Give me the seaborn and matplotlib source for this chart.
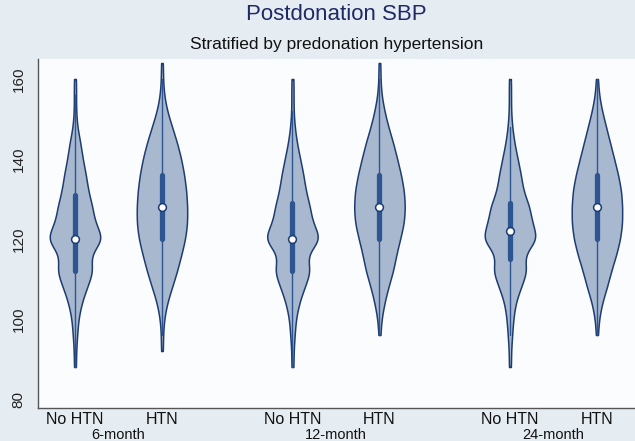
import numpy as np
import pandas as pd
import matplotlib
matplotlib.use("Agg")
import matplotlib.pyplot as plt
import matplotlib.transforms as mtransforms
import seaborn as sns
from matplotlib.ticker import FixedLocator, FixedFormatter

# ---------------- data ----------------
timepoints = ["6-month", "12-month", "24-month"]
groups = ["No HTN", "HTN"]
sbp_values = [88, 92, 96, 100, 104, 108, 112, 116, 120, 124,
              128, 132, 136, 140, 144, 148, 152, 156, 160, 164]

counts_6m_nohtn = [1, 1, 2, 3, 6, 11, 17, 13, 27, 18, 16, 12, 10, 7, 5, 2, 1, 1, 1, 0]
counts_6m_htn = [0, 1, 1, 2, 5, 10, 15, 19, 23, 25, 25, 24, 22, 19, 15, 10, 5, 2, 1, 1]
counts_12m_nohtn = [1, 1, 2, 3, 6, 11, 17, 12, 27, 18, 16, 12, 10, 7, 4, 2, 1, 1, 1, 0]
counts_12m_htn = [0, 0, 1, 2, 5, 9, 14, 17, 21, 25, 26, 25, 22, 18, 14, 9, 5, 2, 1, 1]
counts_24m_nohtn = [1, 1, 2, 3, 5, 10, 16, 12, 26, 20, 18, 12, 10, 7, 4, 2, 1, 1, 1, 0]
counts_24m_htn = [0, 0, 1, 2, 5, 10, 14, 19, 23, 25, 25, 24, 21, 17, 13, 9, 5, 2, 1, 0]

yticks = [80, 100, 120, 140, 160]
title = "Postdonation SBP"
subtitle = "Stratified by predonation hypertension"

# ---------------- build long table ----------------
table = [
    ("6-month", "No HTN", counts_6m_nohtn),
    ("6-month", "HTN", counts_6m_htn),
    ("12-month", "No HTN", counts_12m_nohtn),
    ("12-month", "HTN", counts_12m_htn),
    ("24-month", "No HTN", counts_24m_nohtn),
    ("24-month", "HTN", counts_24m_htn),
]
frames = []
for t, g, c in table:
    vals = np.repeat(sbp_values, c)
    frames.append(pd.DataFrame({"time": t, "group": g, "sbp": vals}))
df = pd.concat(frames, ignore_index=True)

# ---------------- style ----------------
sns.set_style("white")
plt.rcParams["font.family"] = ["Liberation Sans", "DejaVu Sans"]

bg = "#e6edf2"
fill = "#a8b9cf"
edge = "#1f3c72"
boxc = "#2d5592"

W, H = 635, 441
fig = plt.figure(figsize=(W / 100, H / 100), dpi=100, facecolor=bg)
ax_l, ax_r = 38, 635
ax_b, ax_t = 408, 59
ax = fig.add_axes([ax_l / W, 1 - ax_b / H, (ax_r - ax_l) / W, (ax_b - ax_t) / H])
ax.set_facecolor("#fbfcfd")

sns.violinplot(
    data=df, x="time", y="sbp", hue="group",
    order=timepoints, hue_order=groups,
    palette=[fill, fill], saturation=1,
    width=0.8, gap=0.42, cut=0, density_norm="width",
    bw_method=0.2, gridsize=300,
    inner="box",
    inner_kws=dict(box_width=3.8, whis_width=1.0, marker="o", color=boxc),
    linewidth=1.1, linecolor=edge, legend=False, ax=ax,
)

# median dots: white with dark rim
for ln in ax.lines:
    if ln.get_marker() == "o":
        ln.set_markersize(5.6)
        ln.set_markeredgecolor(edge)
        ln.set_markerfacecolor("white")
        ln.set_markeredgewidth(1.1)
        ln.set_zorder(5)

# positions of each violin (from the drawn collections)
centers = sorted(
    float(np.mean(c.get_paths()[0].vertices[:, 0]))
    for c in ax.collections if len(c.get_paths())
)

ax.set_ylim(77.75, 80 + (ax_b - 9 - ax_t) / 4.0)
ax.set_xlim(-0.37, 2.375)
ax.set_yticks(yticks)
ax.set_yticklabels([str(v) for v in yticks], rotation=90, va="center")
ax.tick_params(axis="y", length=5, width=0.9, color="#555555",
               labelsize=11, pad=4, labelcolor="#222222")

ax.xaxis.set_major_locator(FixedLocator(centers))
ax.xaxis.set_major_formatter(FixedFormatter(groups * len(timepoints)))
ax.tick_params(axis="x", which="both", length=0, labelsize=11.5, pad=3,
               labelcolor="#111111")
ax.set_xlabel("")
ax.set_ylabel("")

# group labels under each pair
trans = mtransforms.blended_transform_factory(ax.transData, fig.transFigure)
for i, t in enumerate(timepoints):
    ax.text(i, 2.0 / H, t, transform=trans, ha="center", va="baseline",
            fontsize=10.5, color="#111111")

for s in ["top", "right"]:
    ax.spines[s].set_visible(False)
for s in ["left", "bottom"]:
    ax.spines[s].set_color("#555555")
    ax.spines[s].set_linewidth(1.0)

cx = ((ax_l + ax_r) / 2) / W
fig.text(cx, 1 - 14 / H, title, ha="center", va="center",
         fontsize=16, color="#1e2a66")
fig.text(cx, 1 - 45 / H, subtitle, ha="center", va="center",
         fontsize=12.5, color="#111111")

fig.savefig("out.png", dpi=100, facecolor=bg)
